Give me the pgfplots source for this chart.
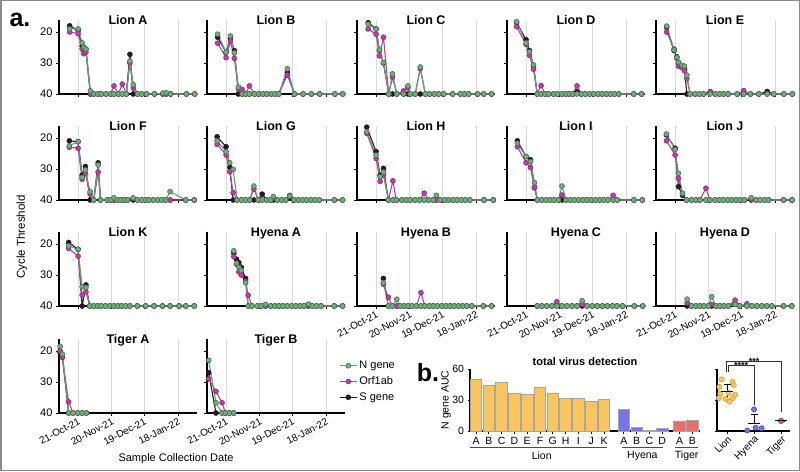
\documentclass[border=0pt]{standalone}
\usepackage{pgfplots}
\usepackage{pgfplotstable}
\pgfplotsset{compat=1.18}
\usepackage{fontspec}
\setmainfont{Liberation Sans}
\definecolor{ngreen}{HTML}{72AD7D}
\definecolor{ngreenline}{HTML}{5EA26D}
\definecolor{ngreendark}{HTML}{3E7049}
\definecolor{omag}{HTML}{C23CA3}
\definecolor{omagdark}{HTML}{8C2676}
\definecolor{sblack}{HTML}{2A1525}
\definecolor{lionc}{HTML}{F9C55F}
\definecolor{liond}{HTML}{D9A035}
\definecolor{hyenac}{HTML}{7474EC}
\definecolor{hyenad}{HTML}{4C4CC0}
\definecolor{tigerc}{HTML}{EC6B6B}
\definecolor{tigerd}{HTML}{B03A3A}
\newcommand\fs[1]{\fontsize{#1}{#1}\selectfont}

\pgfplotstableread{
d N O S
-7.5 19 20 18
0 19 20.5 19.5
3.6 23.5 25.5 24.5
5 25 27 25
7 25.5 26.5 25.5
11 39 40 40
14 40 40 40
17.6 40 40 40
20.6 40 40 40
25 40 40 40
29 40 40 40
32 40 37.4 40
36 40 40 40
39.4 40 36.8 40
43 40 40 40
46.2 29.4 30 27.2
49.2 37 38 40
53 40 40 40
56.6 40 40 40
61 40 40 40
68 40 40 40
75.6 39.7 40 40
78.6 39.6 40 40
82.5 40 40 40
96.5 40 40 40
104 40 40 40
}\LionA
\pgfplotstableread{
d N O S
-7.5 20.7 23.6 21.7
0 26.5 28.3 26.5
3.9 21.3 22.9 22
7.4 26.7 28.5 26
11 37.8 38.4 40
14.3 40 38.5 40
17.5 40 40 40
20.8 40 37.4 40
25.4 40 40 40
29 40 40 40
32.8 40 40 40
36.3 40 40 40
40.3 40 40 40
43.8 40 40 40
47 40 40 40
54.6 31.9 33.9 33
61 40 40 40
68.6 40 40 40
76 40 40 40
83.5 40 40 40
97 40 40 40
104 40 40 40
}\LionB
\pgfplotstableread{
d N O S
-7 17.5 19 17
0 19.1 20.7 19
3 25.8 27.7 26
6.6 29.9 21.7 30
11.3 40 40 40
14.6 33.5 34.6 40
18.5 40 40 40
24.5 40 39 40
28.4 37.4 38 40
30.4 40 40 40
34.9 40 40 40
39.4 31.3 31.8 40
43.9 40 40 40
47.7 40 40 40
51.9 40 40 40
55.8 40 40 40
60.3 40 40 40
68.3 40 40 40
75.2 40 40 40
78.8 40 40 40
82.6 40 40 40
90.6 40 40 40
96 40 40 40
103 40 40 40
}\LionC
\pgfplotstableread{
d N O S
-8.4 16.7 18.3 17
0 23.5 24 22.5
3 26.4 27.5 26
6.6 30.6 32 31
10 40 40 40
13.4 40 37.3 40
17 40 40 40
20 40 40 40
24.5 40 40 40
28 40 40 40
32 40 40 40
35.5 40 40 40
38.5 40 40 40
41.8 40 40 40
45.4 40 37.4 39.3
49.3 40 40 40
52.8 40 40 40
56.7 40 40 40
60.3 40 40 40
64.2 40 40 40
67.8 40 40 40
71.6 40 40 40
75.2 40 40 40
78.8 40 40 40
82.6 40 40 40
96 40 40 40
103 40 40 40
}\LionD
\pgfplotstableread{
d N O S
-7.5 18.1 20 18.5
-0.9 25.8 25.5 26
1.5 28.2 28.5 28
3 29.8 31 30
6 30.7 31.5 31
8.4 31 32.5 32
10.5 33.9 35 40
13.4 40 40 40
17.9 40 40 40
21.7 40 40 40
25.3 40 40 40
31.3 40 39.3 39.3
35.8 40 40 40
39.6 40 40 40
43.2 40 40 40
47.2 40 40 40
55.3 40 40 40
61.2 40 38.9 40
67.2 40 40 40
74.6 40 40 40
82.1 40 40 39.2
88 40 40 40
97 40 40 40
104.5 40 40 40
}\LionE
\pgfplotstableread{
d N O S
-7.8 22.5 23 20.9
0 21.2 23.3 21.2
3.6 32.7 33.3 32
6.5 30.3 31.5 29.2
10.7 37.3 38 40
14 40 40 40
17.9 28.7 31 28
20 40 40 40
26 40 40 40
29 40 40 40
32 39.3 40 40
35 40 40 40
38 40 40 40
41 40 40 40
44 40 40 40
49 39.3 39.5 40
53 40 40 40
56.7 40 40 40
60 40 40 40
63 40 40 40
67 40 40 40
71 40 40 40
74.6 40 40 40
78 40 40 40
82 37.3 40 40
96 40 40 40
103.5 40 40 40
}\LionF
\pgfplotstableread{
d N O S
-8 20.9 22 19.6
0 24.4 25.5 22.8
3.3 28 30.9 29.5
6.3 30.1 37.6 40
9.9 40 40 40
13.8 40 40 40
17.4 40 40 40
21 40 40 40
24.8 35.5 36.5 40
28.7 40 40 40
32.2 40 40 38.1
36.2 40 40 40
39.7 40 40 40
42.1 38.9 39.3 40
45.7 40 40 40
49.6 40 40 40
53.2 40 40 40
56.7 38.8 38.5 39
60.6 40 40 40
64.5 40 40 40
68 40 40 40
71.6 40 40 40
75.6 40 40 40
79.4 40 40 40
83 40 40 40
96.4 40 40 40
103.8 40 40 40
}\LionG
\pgfplotstableread{
d N O S
-8.3 18 18.5 16.5
0 25.5 26.6 24.4
3.6 32.5 34 32
6.6 31 32 29.8
11 40 40 40
15 40 33.8 40
18 40 40 40
23 40 40 40
26.8 40 40 40
30.4 40 40 40
34.9 40 40 40
38.7 40 40 40
42.9 40 37.8 40
46.8 40 40 40
50.7 40 40 40
53.7 38.5 40 40
57.3 40 40 40
61.2 40 40 40
64.7 40 40 40
68.7 40 40 40
72.3 40 40 40
76.1 40 40 40
79.7 40 40 40
83.6 40 40 40
96.1 40 40 40
104.5 40 40 40
}\LionH
\pgfplotstableread{
d N O S
-7.8 21.7 22.8 20.9
0 26 28 26
3.9 27.6 29.5 27
7.5 34.4 35.9 36
10.1 40 40 40
14 40 40 40
17.9 40 40 40
21.5 40 40 40
25 40 40 40
28.9 40 40 40
32 35.5 38.4 40
35.5 40 40 40
39.4 40 40 40
43 40 40 40
46.8 40 40 40
50.8 40 40 40
54.3 40 40 40
57.9 40 40 40
61.8 40 40 40
65.6 40 40 40
69.2 40 40 40
72.8 40 40 40
77.6 40 38.5 40
81.2 40 40 40
96.1 40 40 40
103.6 40 40 40
}\LionI
\pgfplotstableread{
d N O S
-7.7 18.7 20.9 19
0 23.7 25.5 23.3
3 31.4 33 35.7
6.6 37.8 38 38.5
10.2 40 40 40
14.7 40 40 40
18.5 40 40 40
22.1 40 40 40
27.5 40 36.2 40
31 40 40 40
35.5 40 40 40
39.4 40 40 40
43 40 40 40
46.9 40 40 40
50.5 40 40 40
54.3 40 40 40
57.9 40 40 40
61.8 40 40 40
67.8 39.3 39.8 40
72.2 40 40 40
75.8 40 40 40
79.7 40 40 40
83.3 40 40 40
96.7 40 40 40
104.2 40 40 40
}\LionJ
\pgfplotstableread{
d N O S
-8.4 20.6 21.4 19.5
0 21.7 23.9 21.7
3.6 33.8 36.5 40
7 34 35.4 33.2
10.4 40 40 40
14 40 40 40
17.5 40 40 40
20.6 40 40 40
24.4 40 40 40
28.3 40 40 40
31.9 40 40 40
35.5 40 40 40
38.8 40 40 40
42.3 40 40 40
46.2 40 40 40
52.8 40 40 40
60.3 40 40 40
67.7 40 40 40
75.2 40 40 40
82 40 40 40
90 40 40 40
96 40 40 40
103.5 40 40 40
}\LionK
\pgfplotstableread{
d N O S
6.9 22.2 24.1 23
9.3 26.2 26.5 24.9
11.4 27.5 29 26
13.5 28.5 30 27.5
17.4 32.5 32 31.1
19.7 40 36.5 40
23 40 40 40
27.8 40 40 40
31.3 40 40 40
35.2 39.5 40 40
39.7 40 40 40
43.5 40 40 40
47.1 40 40 40
50.7 40 40 40
54.5 40 40 40
58.5 40 40 40
62.1 40 40 40
66 40 40 40
69.5 40 40 40
73.4 39.4 40 40
77 40 40 40
80.6 40 40 40
84.6 40 40 40
96.4 40 40 40
103.8 40 40 40
}\HyenaA
\pgfplotstableread{
d N O S
6.5 32.5 33 31.1
11 40 37.2 40
14.5 40 40 40
18.5 37.8 40 40
21.5 40 40 40
25 40 40 40
28.5 40 40 40
32 40 40 40
36 40 40 40
40 40 35.7 40
43.5 40 40 40
47.5 40 40 40
51 40 40 40
54.6 40 40 40
58.6 40 40 40
62.3 40 40 40
66 40 40 40
69.7 40 40 40
73.4 40 40 40
77.2 40 40 40
80.8 40 40 40
85.3 40 40 40
95.6 40 40 40
103 40 40 40
}\HyenaB
\pgfplotstableread{
d N O S
10 40 40 40
14 40 40 40
18.5 40 40 40
23 40 40 40
27.4 40 38.6 40
32 40 40 40
36.4 40 40 40
41 40 40 40
45.4 40 40 40
50 38.3 39.5 40
54.4 40 40 40
59 40 40 40
63.4 40 40 40
68 40 40 40
72.4 40 40 40
77 40 40 40
81 40 40 40
86 40 40 40
96.4 40 40 40
104 40 40 40
}\HyenaC
\pgfplotstableread{
d N O S
10.7 37.8 39 40
14.7 40 40 40
18.5 40 40 40
22 40 40 40
25.7 40 40 40
29.6 40 40 40
32.6 37 39.5 40
36.5 40 40 40
40 40 40 40
43.6 40 40 40
47.5 40 40 40
53.5 39.5 38.1 39.3
57.4 40 40 40
64 40 39.3 40
68.5 40 40 40
73 40 40 40
77.3 40 40 40
81.8 40 40 40
86.3 40 40 40
96.7 40 40 40
104 40 40 40
}\HyenaD
\pgfplotstableread{
d N O S
-16 18.5 20 20.5
-14 21 22 22
-8.4 40 36.4 40
-4.5 40 40 40
-0.3 40 40 40
3.6 40 40 40
7.4 40 40 40
}\TigerA
\pgfplotstableread{
d N O S
-15.5 23 29 27
-9 36.7 33 40
-3.6 40 36.7 40
-0.6 40 40 40
3 40 40 40
6.8 40 40 40
}\TigerB

\pgfplotsset{
  ts/.style={scale only axis, width=138pt, height=74.4pt, anchor=south west,
    xmin=-17, xmax=106, ymin=16, ymax=40, y dir=reverse,
    axis x line*=bottom, axis y line*=left,
    axis line style={line width=1.3pt, black},
    xtick={0,30,59,89}, ytick={20,30,40},
    xticklabels={}, yticklabels={},
    xmajorgrids, grid style={line width=0.55pt, black!14},
    tick style={line width=0.8pt, black}, tick align=outside, major tick length=3pt,
    every axis title/.style={at={(0.5,1)}, anchor=base, yshift=-4.5pt, font=\bfseries\fs{12.5}},
    tick label style={font=\fs{11}},
    /pgf/number format/assume math mode=true,
    clip=false},
  datelab/.style={xticklabels={21-Oct-21,20-Nov-21,19-Dec-21,18-Jan-22},
    x tick label style={rotate=28, anchor=north east, font=\fs{10}, inner sep=1pt}},
  ylab/.style={yticklabels={20,30,40}},
  Sst/.style={color=sblack, line width=1.1pt, mark=*, mark size=2.5pt, mark options={fill=sblack, draw=sblack, line width=0.5pt}},
  Ost/.style={color=omag, line width=1.1pt, mark=*, mark size=2.5pt, mark options={fill=omag, draw=omagdark, line width=0.5pt}},
  Nst/.style={color=ngreenline, line width=1.1pt, mark=*, mark size=2.5pt, mark options={fill=ngreen, draw=ngreendark, line width=0.55pt}},
}
\newcommand{\tsplot}[1]{%
  \addplot[Sst] table[x=d,y=S]{#1};
  \addplot[Ost] table[x=d,y=O]{#1};
  \addplot[Nst] table[x=d,y=N]{#1};}

\begin{document}
\begin{tikzpicture}
\useasboundingbox (0,0) rectangle (800pt,471pt);
\draw[black!45, line width=1.5pt] (0.75pt,0.75pt) rectangle (799.25pt,470.25pt);
% row 1
\begin{axis}[ts, ylab, at={(59pt,377pt)}, title={Lion A}] \tsplot{\LionA} \end{axis}
\begin{axis}[ts, at={(207pt,377pt)}, title={Lion B}] \tsplot{\LionB} \end{axis}
\begin{axis}[ts, at={(357pt,377pt)}, title={Lion C}] \tsplot{\LionC} \end{axis}
\begin{axis}[ts, at={(507pt,377pt)}, title={Lion D}] \tsplot{\LionD} \end{axis}
\begin{axis}[ts, at={(656pt,377pt)}, title={Lion E}] \tsplot{\LionE} \end{axis}
% row 2
\begin{axis}[ts, ylab, at={(59pt,271pt)}, title={Lion F}] \tsplot{\LionF} \end{axis}
\begin{axis}[ts, at={(207pt,271pt)}, title={Lion G}] \tsplot{\LionG} \end{axis}
\begin{axis}[ts, at={(357pt,271pt)}, title={Lion H}] \tsplot{\LionH} \end{axis}
\begin{axis}[ts, at={(507pt,271pt)}, title={Lion I}] \tsplot{\LionI} \end{axis}
\begin{axis}[ts, at={(656pt,271pt)}, title={Lion J}] \tsplot{\LionJ} \end{axis}
% row 3
\begin{axis}[ts, ylab, at={(59pt,165pt)}, title={Lion K}] \tsplot{\LionK} \end{axis}
\begin{axis}[ts, at={(207pt,165pt)}, title={Hyena A}] \tsplot{\HyenaA} \end{axis}
\begin{axis}[ts, datelab, at={(357pt,165pt)}, title={Hyena B}] \tsplot{\HyenaB} \end{axis}
\begin{axis}[ts, datelab, at={(507pt,165pt)}, title={Hyena C}] \tsplot{\HyenaC} \end{axis}
\begin{axis}[ts, datelab, at={(656pt,165pt)}, title={Hyena D}] \tsplot{\HyenaD} \end{axis}
% row 4
\begin{axis}[ts, ylab, datelab, at={(59pt,58pt)}, title={Tiger A}] \tsplot{\TigerA} \end{axis}
\begin{axis}[ts, datelab, at={(207pt,58pt)}, title={Tiger B}, reverse legend,
   legend style={at={(0.935,0.753)}, anchor=north west, draw=none, fill=none, font=\fs{11}, row sep=2.5pt},
   legend cell align=left]
 \tsplot{\TigerB}
 \legend{S gene, Orf1ab, N gene}
\end{axis}

% labels
\node[font=\bfseries\fs{25}] at (20pt,451pt) {a.};
\node[font=\bfseries\fs{25}] at (428pt,98pt) {b.};
\node[rotate=90, font=\fs{11.5}] at (22pt,234pt) {Cycle Threshold};
\node[font=\fs{11}] at (176pt,12pt) {Sample Collection Date};

% panel b bar chart
\begin{axis}[scale only axis, width=230pt, height=62pt, anchor=south west, at={(470pt,40pt)},
  xmin=-0.47, xmax=17.5, ymin=0, ymax=60, clip=false,
  axis x line*=bottom, axis y line*=left, axis line style={line width=1.1pt},
  ytick={0,30,60}, xtick={0,1,2,3,4,5,6,7,8,9,10,11.55,12.55,13.55,14.55,15.9,16.9},
  xticklabels={A,B,C,D,E,F,G,H,I,J,K,A,B,C,D,A,B},
  tick style={line width=0.8pt, black}, tick align=outside, major tick length=2.5pt,
  tick label style={font=\fs{10.5}}, /pgf/number format/assume math mode=true,
  title={total virus detection},
  every axis title/.style={at={(0.5,1)}, anchor=base, yshift=3.5pt, font=\bfseries\fs{11}}]
\addplot[ybar, bar width=11.5pt, bar shift=0pt, fill=lionc, draw=black!35, line width=0.8pt]
  coordinates {(0,50) (1,44.5) (2,47.4) (3,36) (4,35.1) (5,42.6) (6,36.8) (7,31.9) (8,31.9) (9,28.4) (10,31)};
\addplot[ybar, bar width=11.5pt, bar shift=0pt, fill=hyenac, draw=black!35, line width=0.8pt]
  coordinates {(11.55,21) (12.55,3.2) (13.55,0.5) (14.55,2.6)};
\addplot[ybar, bar width=11.5pt, bar shift=0pt, fill=tigerc, draw=black!35, line width=0.8pt]
  coordinates {(15.9,9.7) (16.9,9.9)};
\draw[line width=0.9pt, black!70] ([yshift=-16pt]axis cs:-0.47,0) -- ([yshift=-16pt]axis cs:10.23,0);
\draw[line width=0.9pt, black!70] ([yshift=-16pt]axis cs:11.4,0) -- ([yshift=-16pt]axis cs:14.6,0);
\draw[line width=0.9pt, black!70] ([yshift=-16pt]axis cs:15.55,0) -- ([yshift=-16pt]axis cs:17.34,0);
\node[font=\fs{10.5}] at ([yshift=-25pt]axis cs:5.13,0) {Lion};
\node[font=\fs{10.5}] at ([yshift=-25pt]axis cs:13,0) {Hyena};
\node[font=\fs{10.5}] at ([yshift=-25pt]axis cs:16.46,0) {Tiger};
\node[rotate=90, font=\fs{10.5}] at ([xshift=-24pt]axis cs:-0.47,30) {N gene AUC};
\end{axis}

% scatter
\begin{axis}[scale only axis, width=73pt, height=62pt, anchor=south west, at={(717pt,40pt)},
  xmin=-0.37, xmax=2.33, ymin=0, ymax=60, clip=false,
  axis x line*=bottom, axis y line*=left, axis line style={line width=1.1pt},
  ytick={0,30,60}, yticklabels={}, xtick={0,1,2}, xticklabels={Lion,Hyena,Tiger},
  tick style={line width=0.8pt, black}, tick align=outside, major tick length=2.5pt,
  x tick label style={rotate=45, anchor=north east, font=\fs{10}, inner sep=1pt}]
\addplot[only marks, mark=*, mark size=2.6pt, mark options={fill=lionc, draw=liond, line width=0.6pt}]
  coordinates {(-0.2,50) (0.2,47.4) (0.25,44.5) (-0.28,42.6) (0.05,36.8) (-0.25,36) (0.3,35.1) (-0.3,31.9) (0.22,31.9) (-0.05,31) (0.1,28.4)};
\addplot[only marks, mark=*, mark size=2.6pt, mark options={fill=hyenac, draw=hyenad, line width=0.6pt}]
  coordinates {(1,21) (1.06,3.2) (0.75,0.5) (1.28,2.6)};
\addplot[only marks, mark=*, mark size=2.6pt, mark options={fill=tigerc, draw=tigerd, line width=0.6pt}]
  coordinates {(2,9.7) (2,9.9)};
\addplot[only marks, mark=-, mark size=6pt, mark options={line width=1pt, black},
  error bars/.cd, y dir=both, y explicit, error bar style={line width=1pt, black}, error mark options={rotate=90, mark size=3.5pt, line width=1pt, black}]
  coordinates {(0,37.8) +- (0,7.2) (2,9.8) +- (0,0.6)};
\addplot[only marks, mark=-, mark size=6pt, mark options={line width=1pt, black},
  error bars/.cd, y dir=plus, y explicit, error bar style={line width=1pt, black}, error mark options={rotate=90, mark size=3.5pt, line width=1pt, black}]
  coordinates {(1,6.9) +- (0,9.5)};
\draw[line width=0.8pt, black!80] (axis cs:0.04,57.5) -- (axis cs:0.04,63.9) -- (axis cs:1,63.9) -- (axis cs:1,25);
\draw[line width=0.8pt, black!80] (axis cs:-0.04,57.5) -- (axis cs:-0.04,67.8) -- (axis cs:2,67.8) -- (axis cs:2,18.5);
\node[font=\bfseries\fs{9}, anchor=base, inner sep=0pt] at ([yshift=-3.5pt]axis cs:0.52,63.9) {****};
\node[font=\bfseries\fs{9}, anchor=base, inner sep=0pt] at ([yshift=-3.5pt]axis cs:1,67.8) {***};
\end{axis}
\end{tikzpicture}
\end{document}
